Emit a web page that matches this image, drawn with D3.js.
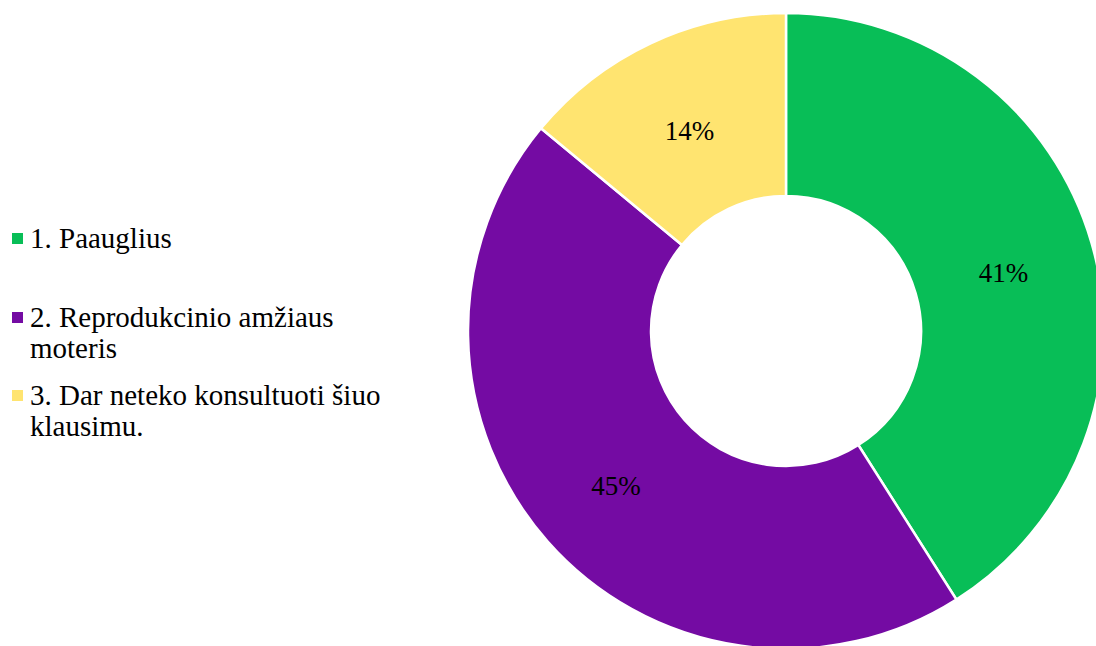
<!DOCTYPE html>
<html>
<head>
<meta charset="utf-8">
<script src="https://cdn.jsdelivr.net/npm/d3@7"></script>
<style>
  html, body { margin: 0; padding: 0; background: #fff; }
  svg { display: block; }
  .serif { font-family: "Times New Roman", "Liberation Serif", Times, serif; }
</style>
</head>
<body>
<svg id="chart" width="1096" height="646"></svg>
<script>
// Survey answers and their shares (percent)
const categories = ["1. Paauglius", "2. Reprodukcinio amžiaus moteris", "3. Dar neteko konsultuoti šiuo klausimu."];
const values = [41, 45, 14];
const colors = ["#08be57", "#740ba3", "#ffe470"];
// Legend entries wrapped the way they are shown
const legendLines = [["1. Paauglius"], ["2. Reprodukcinio amžiaus", "moteris"], ["3. Dar neteko konsultuoti šiuo", "klausimu."]];

const svg = d3.select("#chart");
const cx = 786, cy = 331, outerR = 318, innerR = 135;

const pie = d3.pie().sort(null).value(d => d);
const arc = d3.arc().innerRadius(innerR).outerRadius(outerR);

const g = svg.append("g").attr("transform", `translate(${cx},${cy})`);
const arcs = pie(values);

g.selectAll("path")
  .data(arcs)
  .join("path")
  .attr("d", arc)
  .attr("fill", (d, i) => colors[i])
  .attr("stroke", "#fff")
  .attr("stroke-width", 2.5);

g.selectAll("text.lbl")
  .data(arcs)
  .join("text")
  .attr("class", "lbl serif")
  .attr("transform", d => `translate(${arc.centroid(d)})`)
  .attr("text-anchor", "middle")
  .attr("dy", "0.53em")
  .attr("font-size", 27)
  .attr("fill", "#000")
  .text(d => d.data + "%");

// Legend
const legendTop = [248, 327, 405];
const lineH = 31;
const legend = svg.append("g");
legendLines.forEach((lines, i) => {
  legend.append("rect")
    .attr("x", 12).attr("y", legendTop[i] - 15)
    .attr("width", 11).attr("height", 11)
    .attr("fill", colors[i]);
  const t = legend.append("text")
    .attr("class", "serif")
    .attr("font-size", 29)
    .attr("fill", "#000");
  lines.forEach((ln, j) => {
    t.append("tspan").attr("x", 30).attr("y", legendTop[i] + j * lineH).text(ln);
  });
});
</script>
</body>
</html>
